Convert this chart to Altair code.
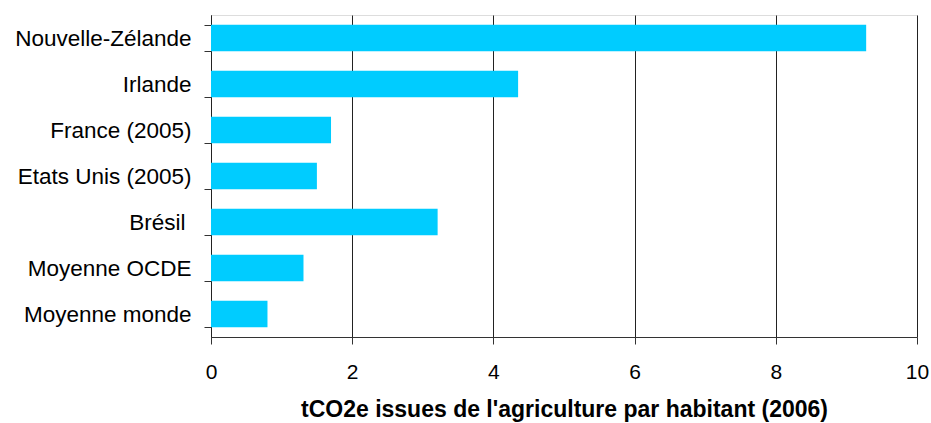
import altair as alt
import pandas as pd

# Agricultural emissions per inhabitant, tCO2e (2006)
countries = [
    "Nouvelle-Zélande",
    "Irlande",
    "France (2005)",
    "Etats Unis (2005)",
    "Brésil",
    "Moyenne OCDE",
    "Moyenne monde",
]
values = [9.28, 4.35, 1.70, 1.50, 3.21, 1.31, 0.80]
x_ticks = [0, 2, 4, 6, 8, 10]

df = pd.DataFrame({"pays": countries, "valeur": values})

FONT = "Liberation Sans"

chart = (
    alt.Chart(df)
    .mark_bar(color="#00CCFF")
    .encode(
        x=alt.X(
            "valeur:Q",
            scale=alt.Scale(domain=[0, 10], nice=False, zero=True),
            axis=alt.Axis(
                values=x_ticks,
                title="tCO2e issues de l'agriculture par habitant (2006)",
                titleFont=FONT,
                titleFontSize=23,
                titleFontWeight="bold",
                titleColor="#000",
                titlePadding=16,
                labelFont=FONT,
                labelFontSize=21,
                labelColor="#000",
                labelPadding=17,
                labelFlush=False,
                tickSize=7,
                tickColor="#333",
                domainColor="#333",
                grid=True,
                gridColor="#222",
                gridWidth=1,
            ),
        ),
        y=alt.Y(
            "pays:N",
            sort=countries,
            scale=alt.Scale(paddingInner=0.42, paddingOuter=0.21),
            axis=alt.Axis(
                title=None,
                tickBand="extent",
                tickSize=7,
                tickColor="#333",
                domainColor="#222",
                labelFont=FONT,
                labelFontSize=22.5,
                labelColor="#000",
                # the "Brésil" label sits a space further from the axis
                labelPadding={
                    "condition": {"test": "datum.value == 'Brésil'", "value": 19},
                    "value": 13,
                },
                grid=False,
            ),
        ),
    )
    .properties(
        width=706,
        height=322,
        autosize="none",
        padding={"left": 211, "top": 15, "right": 14, "bottom": 86},
    )
    .configure_view(stroke="#555", strokeWidth=1)
    .configure(background="white")
)

chart.save("out.html", embed_options={"renderer": "svg", "actions": False})
